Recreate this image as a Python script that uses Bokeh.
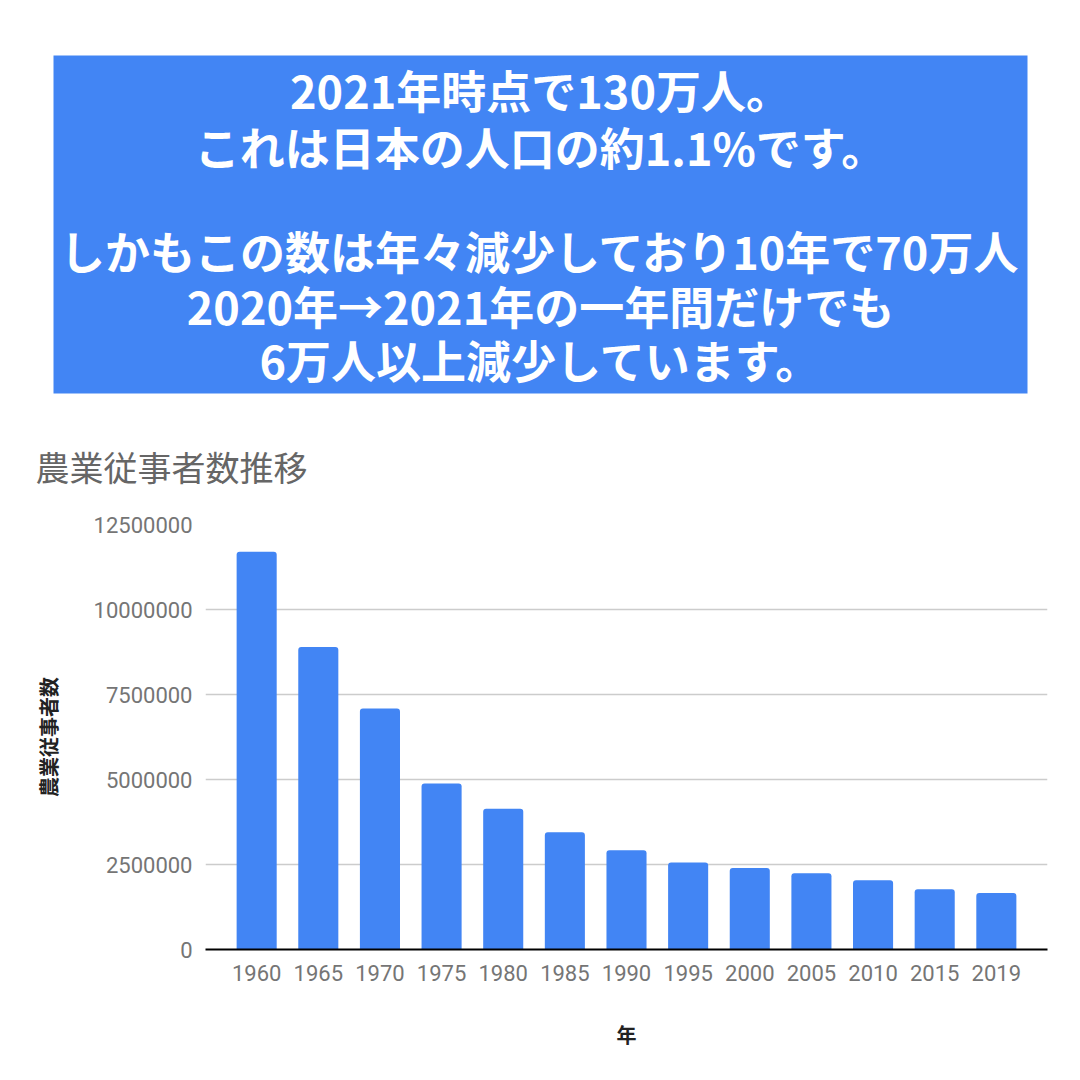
from bokeh.plotting import figure
from bokeh.models import ColumnDataSource, FactorRange, Range1d, FixedTicker, BasicTickFormatter
from bokeh.core.properties import value
from bokeh.embed import file_html
from bokeh.resources import INLINE

# ---- data ----
years = ["1960", "1965", "1970", "1975", "1980", "1985", "1990",
         "1995", "2000", "2005", "2010", "2015", "2019"]
workers = [11700000, 8900000, 7090000, 4880000, 4140000, 3450000, 2920000,
           2560000, 2400000, 2240000, 2040000, 1770000, 1660000]
y_ticks = [0, 2500000, 5000000, 7500000, 10000000, 12500000]
header_lines = ["2021年時点で130万人。",
                "これは日本の人口の約1.1%です。",
                "しかもこの数は年々減少しており10年で70万人",
                "2020年→2021年の一年間だけでも",
                "6万人以上減少しています。"]
chart_title = "農業従事者数推移"
y_label = "農業従事者数"
x_label = "年"

# ---- layout constants ----
W = 1080
HEAD_H = 500
header_y = [89, 146, 250, 305, 359]
BLUE = "#4285F4"
CJK = "Noto Sans CJK JP"

# ---- header figure (text box + chart title) ----
h = figure(width=W, height=HEAD_H, x_range=Range1d(0, W), y_range=Range1d(HEAD_H, 0),
           output_backend="svg", toolbar_location=None, min_border=0)
h.axis.visible = False
h.grid.visible = False
h.outline_line_color = None
h.background_fill_color = "white"
h.border_fill_color = "white"
h.quad(left=[53], right=[1027], top=[55], bottom=[393], fill_color=BLUE, line_color=None)
h.text(x=[540] * len(header_lines), y=header_y, text=header_lines,
       text_align="center", text_baseline="middle", text_color="white",
       text_font=value(CJK), text_font_style="bold", text_font_size="45px")
h.text(x=[35], y=[466], text=[chart_title], text_align="left", text_baseline="middle",
       text_color="#666666", text_font=value(CJK), text_font_size="34px")

# ---- chart figure ----
src = ColumnDataSource(dict(year=years, workers=workers))
p = figure(width=W, height=W - HEAD_H,
           x_range=FactorRange(*years, range_padding=0.33, range_padding_units="absolute"),
           y_range=Range1d(0, 12500000),
           output_backend="svg", toolbar_location=None,
           min_border_left=205, min_border_right=33, min_border_top=24, min_border_bottom=131)
p.outline_line_color = None
p.background_fill_color = "white"
p.border_fill_color = "white"

p.vbar(x="year", top="workers", width=0.65, source=src, fill_color=BLUE, line_color=None,
       border_radius=(3, 3, 0, 0))

p.xgrid.grid_line_color = None
p.ygrid.grid_line_color = "#cccccc"
p.ygrid.grid_line_width = 1.5
p.ygrid.ticker = FixedTicker(ticks=y_ticks)

ya = p.yaxis[0]
ya.ticker = FixedTicker(ticks=y_ticks)
ya.formatter = BasicTickFormatter(use_scientific=False)
ya.axis_line_color = None
ya.major_tick_line_color = None
ya.major_tick_out = 0
ya.major_tick_in = 0
ya.minor_tick_line_color = None
ya.minor_tick_out = 0
ya.major_label_text_font = "Roboto"
ya.major_label_text_font_size = "22px"
ya.major_label_text_color = "#757575"
ya.major_label_standoff = 13
ya.axis_label = y_label
ya.axis_label_text_font = CJK
ya.axis_label_text_font_style = "bold"
ya.axis_label_text_font_size = "20px"
ya.axis_label_text_color = "#222222"
ya.axis_label_standoff = 28

xa = p.xaxis[0]
xa.axis_line_color = "black"
xa.axis_line_width = 2
xa.major_tick_line_color = None
xa.major_tick_out = 0
xa.major_tick_in = 0
xa.minor_tick_line_color = None
xa.major_label_text_font = "Roboto"
xa.major_label_text_font_size = "22px"
xa.major_label_text_color = "#757575"
xa.major_label_standoff = 15
xa.axis_label = x_label
xa.axis_label_text_font = CJK
xa.axis_label_text_font_style = "bold"
xa.axis_label_text_font_size = "20px"
xa.axis_label_text_color = "#222222"
xa.axis_label_standoff = 36

open("out.html", "w").write(file_html([h, p], INLINE))
